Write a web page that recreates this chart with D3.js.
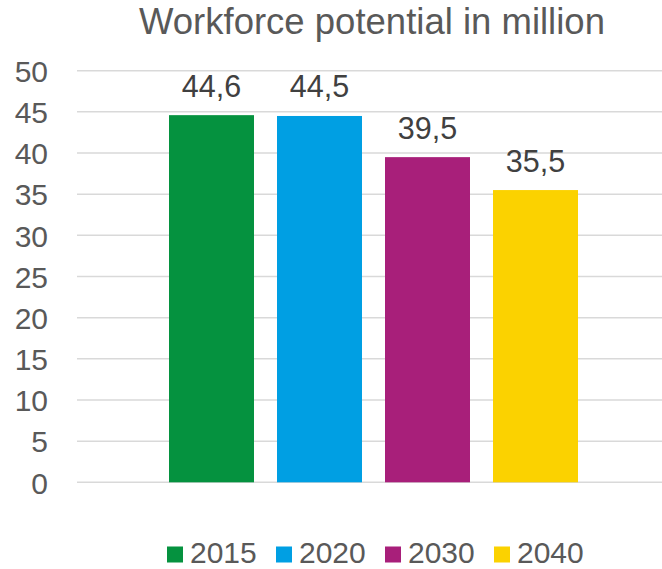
<!DOCTYPE html>
<html>
<head>
<meta charset="utf-8">
<script src="https://cdn.jsdelivr.net/npm/d3@7"></script>
<style>
  html, body { margin: 0; padding: 0; background: #fff; }
  svg { display: block; font-family: "Liberation Sans", Arial, sans-serif; }
</style>
</head>
<body>
<svg id="chart" width="662" height="569"></svg>
<script>
// Workforce potential (million people) by year
const years = ["2015", "2020", "2030", "2040"];
const values = [44.6, 44.5, 39.5, 35.5];
const valueLabels = ["44,6", "44,5", "39,5", "35,5"];
const colors = ["#05923F", "#009FE3", "#A81F7A", "#FBD200"];
const yTicks = [0, 5, 10, 15, 20, 25, 30, 35, 40, 45, 50];
const title = "Workforce potential in million";

const svg = d3.select("#chart");

const plot = { left: 77, right: 662, top: 70.7, bottom: 482.3 };

const y = d3.scaleLinear().domain([0, 50]).range([plot.bottom, plot.top]);
const x = d3.scaleBand().domain(years).range([169, 578]).paddingInner(23 / 108);

// gridlines
svg.append("g")
  .selectAll("line")
  .data(yTicks)
  .join("line")
  .attr("x1", plot.left)
  .attr("x2", plot.right)
  .attr("y1", d => y(d))
  .attr("y2", d => y(d))
  .attr("stroke", "#d9d9d9")
  .attr("stroke-width", 1.5);

// y axis labels
const yAxis = d3.axisLeft(y).tickValues(yTicks).tickSize(0).tickPadding(0);
const yg = svg.append("g")
  .attr("transform", "translate(48,0)")
  .call(yAxis);
yg.select(".domain").remove();
yg.selectAll("text")
  .attr("fill", "#595959")
  .attr("font-size", 30)
  .attr("font-family", "Liberation Sans, Arial, sans-serif")
  .attr("dy", "0.36em");

// bars
svg.append("g")
  .selectAll("rect")
  .data(years)
  .join("rect")
  .attr("x", d => x(d))
  .attr("width", x.bandwidth())
  .attr("y", (d, i) => y(values[i]))
  .attr("height", (d, i) => y(0) - y(values[i]))
  .attr("fill", (d, i) => colors[i]);

// value labels
svg.append("g")
  .selectAll("text")
  .data(years)
  .join("text")
  .attr("x", d => x(d) + x.bandwidth() / 2)
  .attr("y", (d, i) => y(values[i]) - 18.5)
  .attr("text-anchor", "middle")
  .attr("fill", "#404040")
  .attr("font-size", 30.5)
  .text((d, i) => valueLabels[i]);

// title
svg.append("text")
  .attr("x", 372)
  .attr("y", 33.5)
  .attr("text-anchor", "middle")
  .attr("fill", "#595959")
  .attr("font-size", 36.5)
  .text(title);

// legend
const legend = svg.append("g")
  .selectAll("g")
  .data(years)
  .join("g")
  .attr("transform", (d, i) => `translate(${167 + i * 109},0)`);
legend.append("rect")
  .attr("x", 0)
  .attr("y", 546.5)
  .attr("width", 16)
  .attr("height", 16)
  .attr("fill", (d, i) => colors[i]);
legend.append("text")
  .attr("x", 23)
  .attr("y", 562.5)
  .attr("fill", "#595959")
  .attr("font-size", 30)
  .text(d => d);
</script>
</body>
</html>
